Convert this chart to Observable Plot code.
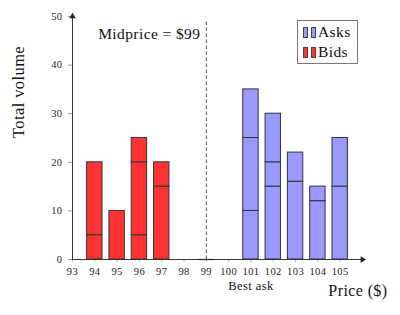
<!DOCTYPE html>
<html>
<head>
<meta charset="utf-8">
<script src="https://cdn.jsdelivr.net/npm/d3@7"></script>
<script src="https://cdn.jsdelivr.net/npm/@observablehq/plot@0.6"></script>
<style>
  body { margin: 0; background: #fff; }
  #wrap { position: relative; width: 400px; height: 315px; font-family: "Liberation Serif", serif; }
  #legend { position: absolute; left: 297px; top: 20px; width: 61px; height: 44px; border: 1px solid #777; background: #fff; box-sizing: border-box; font-size: 15.5px; letter-spacing: 0.4px; color: #111; }
  .row { position: absolute; left: 5px; height: 16px; line-height: 16px; display: flex; align-items: center; }
  .sw { display: inline-block; width: 3px; height: 9px; border: 1px solid #444; margin-right: 2.5px; }
</style>
</head>
<body>
<div id="wrap"></div>
<script>
const xTicks = [93, 94, 95, 96, 97, 98, 99, 100, 101, 102, 103, 104, 105];
const yTicks = [0, 10, 20, 30, 40, 50];
const bidPrices = [94, 95, 96, 97];
const bidOrders = [[5, 15], [10], [5, 15, 5], [15, 5]];
const askPrices = [101, 102, 103, 104, 105];
const askOrders = [[10, 15, 10], [15, 5, 10], [16, 6], [12, 3], [15, 10]];
const midprice = 99;
const bestAsk = 101;

const bidColor = "#ff3333";
const askColor = "#9999ff";
const half = 0.345;

function segments(prices, orders, side) {
  const out = [];
  prices.forEach((p, i) => {
    let c = 0;
    orders[i].forEach(v => { out.push({price: p, side, y1: c, y2: c + v}); c += v; });
  });
  return out;
}
const segs = [...segments(bidPrices, bidOrders, "Bids"), ...segments(askPrices, askOrders, "Asks")];

const font = "Liberation Serif";
const xMin = xTicks[0], xMax = 106, yMax = yTicks[yTicks.length - 1];
const plot = Plot.plot({
  width: 400,
  height: 315,
  marginLeft: 72,
  marginRight: 38,
  marginTop: 16,
  marginBottom: 56,
  style: {fontFamily: font, background: "#fff", overflow: "visible", letterSpacing: "0.4px"},
  x: {domain: [xMin, xMax]},
  y: {domain: [0, yMax]},
  marks: [
    Plot.axisY({ticks: yTicks, tickSize: 4, tickPadding: 6, fontSize: 10.5, label: null, stroke: "#999", fill: "#222"}),
    Plot.axisX({ticks: xTicks, tickSize: 3, tickPadding: 5, fontSize: 10.5, label: null, tickFormat: d => String(d), stroke: "#bbb", fill: "#222"}),
    Plot.rect(segs, {
      x1: d => d.price - half, x2: d => d.price + half,
      y1: "y1", y2: "y2",
      fill: d => d.side === "Bids" ? bidColor : askColor,
      stroke: "#333", strokeWidth: 1
    }),
    Plot.ruleY([0], {x1: midprice - half, x2: midprice + half, stroke: "#333", strokeWidth: 1.2}),
    Plot.ruleX([midprice], {y1: 0, y2: 49.5, stroke: "#666", strokeWidth: 1.1, strokeDasharray: "3.5,2.5"}),
    Plot.ruleX([xMin], {y1: 0, y2: yMax, stroke: "#222", strokeWidth: 0.9}),
    Plot.ruleY([0], {x1: xMin, x2: xMax, stroke: "#222", strokeWidth: 0.9}),
    Plot.dot([{}], {x: xMin, y: yMax, symbol: "triangle", r: 2.4, fill: "#222", stroke: "none"}),
    Plot.dot([{}], {x: xMax, y: 0, symbol: "triangle", r: 2.4, rotate: 90, fill: "#222", stroke: "none"}),
    Plot.text(["Midprice = $99"], {x: midprice, frameAnchor: "top", dx: -6, dy: 11.5, textAnchor: "end", fontSize: 15.5, fill: "#111"}),
    Plot.text(["Best ask"], {x: bestAsk, frameAnchor: "bottom", dy: 30, fontSize: 12.5, fill: "#111"}),
    Plot.text(["Price ($)"], {frameAnchor: "bottom-right", dx: 25, dy: 36, textAnchor: "end", fontSize: 16, fill: "#111"}),
    Plot.text(["Total volume"], {frameAnchor: "left", dx: -53.5, dy: 0, rotate: -90, fontSize: 16.5, fill: "#111"})
  ]
});
const wrap = document.getElementById("wrap");
wrap.appendChild(plot);
const legend = document.createElement("div");
legend.id = "legend";
[["Asks", askColor, 3], ["Bids", bidColor, 23]].forEach(([label, color, top]) => {
  const row = document.createElement("div");
  row.className = "row";
  row.style.top = top + "px";
  for (let k = 0; k < 2; k++) {
    const s = document.createElement("span");
    s.className = "sw";
    s.style.background = color;
    row.appendChild(s);
  }
  const t = document.createElement("span");
  t.textContent = label;
  t.style.marginLeft = "0px";
  row.appendChild(t);
  legend.appendChild(row);
});
wrap.appendChild(legend);
</script>
</body>
</html>
